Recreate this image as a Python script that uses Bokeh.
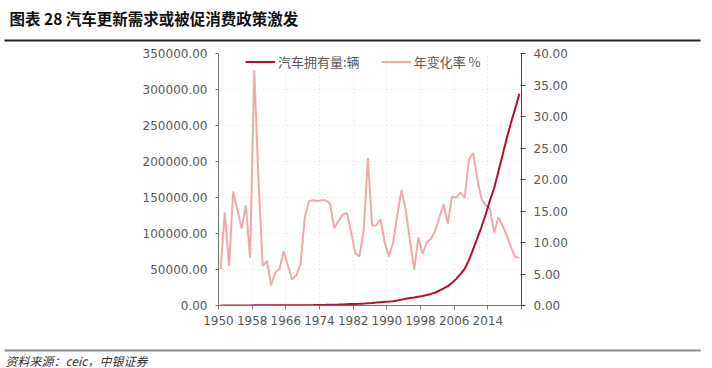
from bokeh.plotting import figure
from bokeh.models import Range1d, LinearAxis, FixedTicker, PrintfTickFormatter, Legend, LegendItem, ColumnDataSource
from bokeh.layouts import column
from bokeh.embed import file_html
from bokeh.resources import INLINE
from bokeh.core.properties import value

# ---------------- data ----------------
years = list(range(1950, 2022))

ownership = [  # 汽车拥有量 (thousand vehicles)
    56, 64, 68, 80, 93, 104, 120, 129, 177, 213,
    226, 242, 250, 263, 278, 302, 321, 334, 350, 373,
    425, 495, 578, 674, 787, 918, 1067, 1198, 1358, 1558,
    1783, 1991, 2157, 2326, 2601, 3211, 3620, 4081, 4644, 5113,
    5514, 6061, 6917, 8176, 9420, 10400, 11001, 12191, 13193, 14529,
    16089, 18020, 20532, 23829, 26937, 31597, 36974, 43584, 50996, 62806,
    78018, 93563, 109331, 126701, 145981, 162845, 185745, 209067, 232312, 253764,
    273409, 294186,
]

rate = [  # 年变化率 %
    5.8, 14.8, 6.3, 18.1, 15.2, 12.2, 15.9, 7.6, 37.3, 20.0,
    6.3, 7.1, 3.2, 5.3, 5.8, 8.6, 6.3, 4.1, 4.8, 6.6,
    14.0, 16.6, 16.7, 16.6, 16.7, 16.7, 16.2, 12.3, 13.4, 14.4,
    14.7, 11.7, 8.3, 7.8, 11.9, 23.4, 12.7, 12.7, 13.7, 10.0,
    7.8, 10.0, 14.4, 18.3, 15.1, 10.3, 5.7, 10.8, 8.2, 10.0,
    10.6, 11.9, 14.0, 16.1, 13.0, 17.3, 17.1, 17.9, 17.1, 23.1,
    24.2, 20.1, 16.9, 15.9, 15.3, 11.6, 14.0, 12.7, 11.1, 9.3,
    7.7, 7.6,
]

x_tick_labels = ["1950", "1958", "1966", "1974", "1982", "1990", "1998", "2006", "2014", ""]
left_ticks = [0, 50000, 100000, 150000, 200000, 250000, 300000, 350000]
right_ticks = [0, 5, 10, 15, 20, 25, 30, 35, 40]

title_text = "图表 28 汽车更新需求或被促消费政策激发"
source_text = "资料来源：ceic，中银证券"
series_names = ["汽车拥有量:辆", "年变化率 %"]

# ---------------- layout constants ----------------
W = 712
CJK = value("Noto Sans CJK SC")
NUM = "DejaVu Sans"
LABEL_COLOR = "#595959"
AXIS_COLOR = "#767676"

# ---------------- header ----------------
top = figure(width=W, height=46, x_range=Range1d(0, W), y_range=Range1d(46, 0),
             toolbar_location=None, output_backend="svg", min_border=0,
             x_axis_location=None, y_axis_location=None)
top.frame_align = False
top.grid.visible = False
top.outline_line_color = None
top.text(x=[9], y=[17], text=[title_text], text_font=CJK, text_font_style="bold",
         text_font_size="15.5px", text_baseline="middle", text_color="#111111")
top.segment(x0=[4], y0=[40], x1=[700], y1=[40], line_color="#222222", line_width=2)

# ---------------- chart ----------------
n = len(years)
xs = [i + 0.5 for i in range(n)]
src = ColumnDataSource(dict(x=xs, own=ownership, rate=rate))

p = figure(width=W, height=292, x_range=Range1d(0, n), y_range=Range1d(0, 350000),
           min_border_left=218, min_border_right=191, min_border_top=7, min_border_bottom=33,
           toolbar_location=None, output_backend="svg")
p.frame_align = False
p.outline_line_color = None
p.extra_y_ranges = {"rate": Range1d(0, 40)}

r_rate = p.line("x", "rate", source=src, y_range_name="rate", line_color="#eeaaaa", line_width=2)
r_own = p.line("x", "own", source=src, line_color="#b2102f", line_width=2)

xt = list(range(0, n + 1, 8))
p.xaxis.ticker = FixedTicker(ticks=xt)
p.xaxis.major_label_overrides = {t: lab for t, lab in zip(xt, x_tick_labels)}
p.yaxis.ticker = FixedTicker(ticks=left_ticks)
p.yaxis.formatter = PrintfTickFormatter(format="%.2f")

ax_r = LinearAxis(y_range_name="rate", ticker=FixedTicker(ticks=right_ticks),
                  formatter=PrintfTickFormatter(format="%.2f"))
p.add_layout(ax_r, "right")

for ax in [p.xaxis[0], p.yaxis[0], ax_r]:
    ax.axis_line_color = AXIS_COLOR
    ax.major_tick_line_color = AXIS_COLOR
    ax.minor_tick_line_color = None
    ax.major_label_text_font = NUM
    ax.major_label_text_font_size = "12px"
    ax.major_label_text_color = LABEL_COLOR
    ax.major_tick_in = 0
    ax.major_tick_out = 4
ax_r.axis_line_color = "#444444"
ax_r.major_tick_line_color = "#444444"
ax_r.major_tick_in = 1
ax_r.major_label_standoff = 8
p.yaxis[0].major_tick_out = 3
p.yaxis[0].major_label_standoff = 8
p.xaxis[0].major_label_standoff = 6

p.xgrid.grid_line_color = "#dddddd"
p.xgrid.grid_line_dash = "1 3"
p.ygrid.grid_line_color = "#dddddd"
p.ygrid.grid_line_dash = "1 3"

legend = Legend(items=[LegendItem(label=series_names[0], renderers=[r_own]),
                       LegendItem(label=series_names[1], renderers=[r_rate])],
                orientation="horizontal", location=(27, 234),
                glyph_width=30, glyph_height=17, label_height=17, label_standoff=3,
                spacing=21, padding=0, margin=0,
                border_line_color=None, background_fill_alpha=0,
                label_text_font="Noto Sans CJK SC", label_text_font_size="13px",
                label_text_color=LABEL_COLOR)
p.add_layout(legend)

# ---------------- footer ----------------
bot = figure(width=W, height=30, x_range=Range1d(0, W), y_range=Range1d(30, 0),
             toolbar_location=None, output_backend="svg", min_border=0,
             x_axis_location=None, y_axis_location=None)
bot.frame_align = False
bot.grid.visible = False
bot.outline_line_color = None
bot.segment(x0=[4], y0=[12], x1=[700], y1=[12], line_color="#8a8a8a", line_width=2)
bot.text(x=[5], y=[22], text=[source_text], text_font=CJK, text_font_style="italic",
         text_font_size="12px", text_baseline="middle", text_color="#333333")

layout = column(top, p, bot, spacing=0)
open("out.html", "w").write(file_html(layout, INLINE))
